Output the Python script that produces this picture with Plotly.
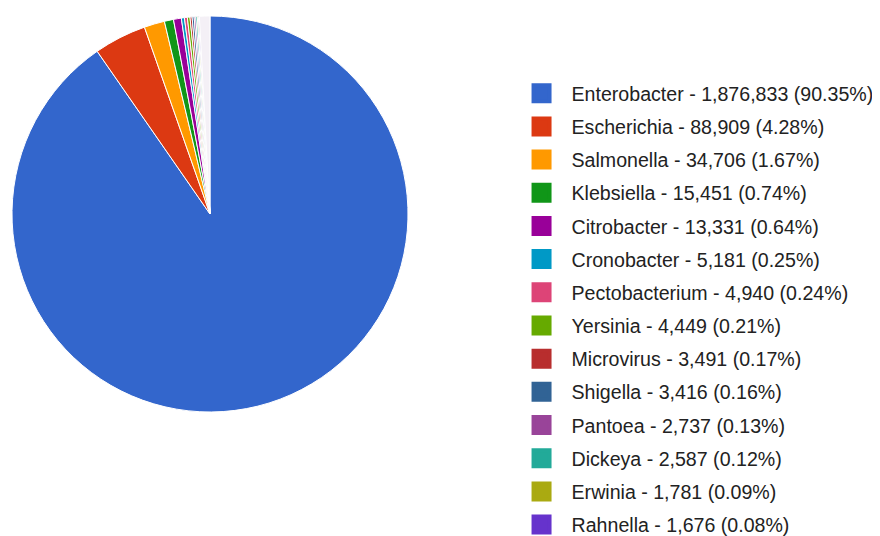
import plotly.graph_objects as go

genera = ["Enterobacter", "Escherichia", "Salmonella", "Klebsiella", "Citrobacter",
          "Cronobacter", "Pectobacterium", "Yersinia", "Microvirus", "Shigella",
          "Pantoea", "Dickeya", "Erwinia", "Rahnella"]
counts = [1876833, 88909, 34706, 15451, 13331, 5181, 4940, 4449, 3491, 3416,
          2737, 2587, 1781, 1676]
percents = [90.35, 4.28, 1.67, 0.74, 0.64, 0.25, 0.24, 0.21, 0.17, 0.16,
            0.13, 0.12, 0.09, 0.08]
colors = ["#3366cc", "#dc3912", "#ff9900", "#109618", "#990099", "#0099c6",
          "#dd4477", "#66aa00", "#b82e2e", "#316395", "#994499", "#22aa99",
          "#aaaa11", "#6633cc"]
# remaining many tiny genera (not listed in the legend), estimated
other_count = 17800
other_color = "#f4f0f6"

legend_labels = [f"{g} - {c:,} ({p:.2f}%)" for g, c, p in zip(genera, counts, percents)]

fig = go.Figure()
fig.add_trace(go.Pie(
    labels=genera + ["Other"],
    values=counts + [other_count],
    marker=dict(colors=colors + [other_color], line=dict(color="white", width=1)),
    sort=False,
    direction="clockwise",
    rotation=0,
    textinfo="none",
    showlegend=False,
    domain=dict(x=[0.004545, 0.454545], y=[0.24627, 0.98507]),
    hoverinfo="label+value+percent",
))

for i, (lab, col) in enumerate(zip(legend_labels, colors)):
    fig.add_trace(go.Scatter(
        x=[None], y=[None], mode="markers", name=lab,
        legendgroup=f"g{i}",
        marker=dict(symbol="square", size=16, color=col, line=dict(color=col, width=4)),
        hoverinfo="skip",
    ))

fig.update_layout(
    width=880, height=536,
    margin=dict(l=0, r=0, t=0, b=0, autoexpand=False),
    paper_bgcolor="white", plot_bgcolor="white",
    xaxis=dict(visible=False), yaxis=dict(visible=False),
    font=dict(family="Liberation Sans, Arial, sans-serif", size=19.6, color="#222222"),
    legend=dict(
        x=0.5722, y=0.8769, xanchor="left", yanchor="top",
        itemsizing="trace", itemwidth=50,
        tracegroupgap=4.7,
        font=dict(size=19.6, color="#222222"),
        bgcolor="rgba(0,0,0,0)",
    ),
)

fig.write_html("out.html")
